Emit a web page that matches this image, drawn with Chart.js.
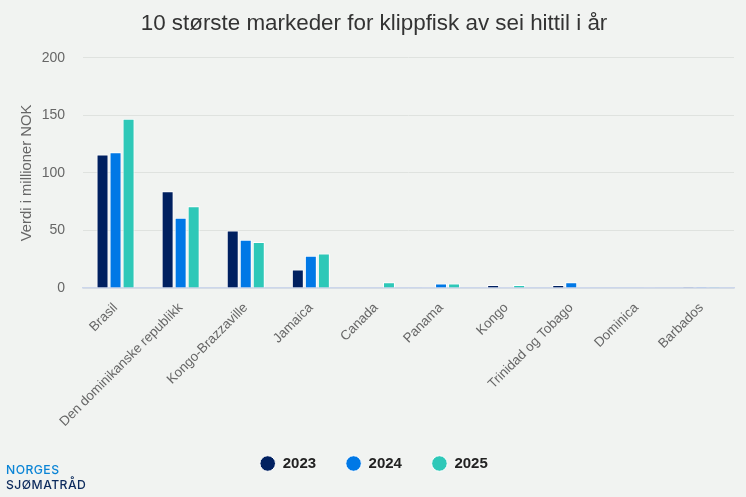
<!DOCTYPE html>
<html>
<head>
<meta charset="utf-8">
<script src="https://cdn.jsdelivr.net/npm/chart.js@4/dist/chart.umd.min.js"></script>
<style>
  html, body { margin: 0; padding: 0; background: #f1f3f1; }
  #wrap { position: relative; width: 746px; height: 497px; overflow: hidden; }
  #logo { position: absolute; left: 6px; top: 463px; font: 500 12.2px/14.5px Inter, "Liberation Sans", sans-serif; letter-spacing: 0.45px; }
  #logo .a { color: #0a84d6; display: block; }
  #logo .b { color: #0c2a5c; display: block; }
</style>
</head>
<body>
<div id="wrap">
  <canvas id="chart" width="746" height="497"></canvas>
  <div id="logo"><span class="a">NORGES</span><span class="b">SJØMATRÅD</span></div>
</div>
<script>
const categories = ['Brasil', 'Den dominikanske republikk', 'Kongo-Brazzaville', 'Jamaica', 'Canada', 'Panama', 'Kongo', 'Trinidad og Tobago', 'Dominica', 'Barbados'];
const values2023 = [116, 84, 50, 16, 0, 0.3, 2.5, 2.5, 0, 0.2];
const values2024 = [118, 61, 42, 28, 0, 4, 0.3, 5, 0, 0.2];
const values2025 = [147, 71, 40, 30, 5, 4, 2.5, 0.3, 0.3, 0.2];
const yTicks = [0, 50, 100, 150, 200];

const fontName = '"Liberation Sans", Arial, sans-serif';

function makeSet(label, data, color) {
    return {
        label: label,
        data: data,
        backgroundColor: color,
        borderColor: '#ffffff',
        borderWidth: 1,
        categoryPercentage: 0.6,
        barPercentage: 0.92
    };
}

new Chart(document.getElementById('chart').getContext('2d'), {
    type: 'bar',
    data: {
        labels: categories,
        datasets: [
            makeSet('2023', values2023, '#002060'),
            makeSet('2024', values2024, '#0078e6'),
            makeSet('2025', values2025, '#2ec8b8')
        ]
    },
    options: {
        responsive: false,
        animation: false,
        layout: { padding: { left: 14, right: 12, top: 0, bottom: 16 } },
        plugins: {
            title: {
                display: true,
                text: '10 største markeder for klippfisk av sei hittil i år',
                color: '#333333',
                font: { family: fontName, size: 22.4, weight: 'normal' },
                padding: { top: 10, bottom: 21 }
            },
            legend: {
                position: 'bottom',
                labels: {
                    usePointStyle: true,
                    pointStyle: 'circle',
                    boxWidth: 15,
                    boxHeight: 11,
                    padding: 30,
                    color: '#222222',
                    font: { family: fontName, size: 15, weight: 'bold' }
                }
            },
            tooltip: { enabled: false }
        },
        scales: {
            x: {
                grid: { display: false, drawTicks: false },
                border: { color: '#ccd6eb', width: 1.5 },
                ticks: {
                    color: '#666666',
                    font: { family: fontName, size: 13.4 },
                    maxRotation: 45,
                    minRotation: 45,
                    autoSkip: false,
                    padding: 12
                },
                afterFit: function (scale) { scale.height = 138; }
            },
            y: {
                min: 0,
                max: 200,
                afterBuildTicks: function (scale) {
                    scale.ticks = yTicks.map(function (v) { return { value: v }; });
                },
                afterFit: function (scale) { scale.width = 69; },
                grid: { color: '#dfe2df', drawTicks: false },
                border: { display: false },
                ticks: {
                    color: '#666666',
                    font: { family: fontName, size: 14 },
                    padding: 18
                },
                title: {
                    display: true,
                    text: 'Verdi i millioner NOK',
                    color: '#666666',
                    font: { family: fontName, size: 14.8 },
                    padding: { top: 4, bottom: 0 }
                }
            }
        }
    }
});
</script>
</body>
</html>
